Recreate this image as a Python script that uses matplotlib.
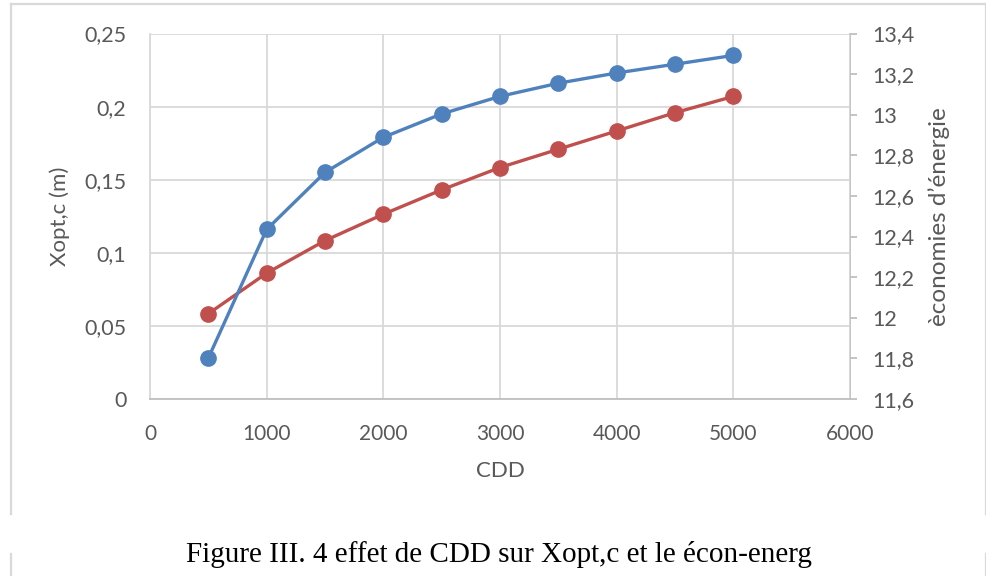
import matplotlib
matplotlib.use("Agg")
import matplotlib.pyplot as plt
from matplotlib.lines import Line2D
from matplotlib.ticker import FixedLocator, FuncFormatter

# CDD values and the two series
cdd = [500, 1000, 1500, 2000, 2500, 3000, 3500, 4000, 4500, 5000]
xopt_c = [0.028, 0.116, 0.155, 0.179, 0.195, 0.207, 0.216, 0.223, 0.229, 0.235]
economies = [12.02, 12.22, 12.38, 12.51, 12.63, 12.74, 12.83, 12.92, 13.01, 13.09]

x_ticks = [0, 1000, 2000, 3000, 4000, 5000, 6000]
left_ticks = [0, 0.05, 0.1, 0.15, 0.2, 0.25]
right_ticks = [11.6, 11.8, 12.0, 12.2, 12.4, 12.6, 12.8, 13.0, 13.2, 13.4]

x_label = "CDD"
left_label = "Xopt,c (m)"
right_label = "èconomies d’énergie"
caption = "Figure III. 4 effet de CDD sur Xopt,c et le écon-energ"

BLUE = "#4F81BD"
RED = "#C0504D"
TXT = "#595959"
GRID = "#D9D9D9"
SPINE = "#BFBFBF"
FONT = "Lato"


def fr_fmt(v, _pos=None):
    return f"{round(v, 3):g}".replace(".", ",")


W, H = 987, 576
fig = plt.figure(figsize=(W / 100, H / 100), dpi=100)
fig.patch.set_facecolor("white")

ax = fig.add_axes([150 / W, 1 - 399 / H, 700 / W, (399 - 33.5) / H])
ax2 = ax.twinx()
ax.set_zorder(ax2.get_zorder() + 1)
ax.patch.set_visible(False)

ax.set_xlim(x_ticks[0], x_ticks[-1])
ax.set_ylim(left_ticks[0], left_ticks[-1])
ax2.set_ylim(right_ticks[0], right_ticks[-1])
ax.set_autoscale_on(False)

ax.xaxis.set_major_locator(FixedLocator(x_ticks))
ax.yaxis.set_major_locator(FixedLocator(left_ticks))
ax2.yaxis.set_major_locator(FixedLocator(right_ticks))
ax.xaxis.set_major_formatter(FuncFormatter(lambda v, p: f"{int(v)}"))
ax.yaxis.set_major_formatter(FuncFormatter(fr_fmt))
ax2.yaxis.set_major_formatter(FuncFormatter(fr_fmt))

ax.grid(True, color=GRID, linewidth=1.3, zorder=0)
ax.set_axisbelow(True)

ax.spines["top"].set_visible(False)
ax2.spines["top"].set_visible(False)
ax.spines["right"].set_visible(False)
ax.spines["left"].set_color(GRID)
ax.spines["left"].set_linewidth(1.3)
ax.spines["bottom"].set_color(SPINE)
ax.spines["bottom"].set_linewidth(1.3)
ax2.spines["left"].set_visible(False)
ax2.spines["bottom"].set_visible(False)
ax2.spines["right"].set_color(SPINE)
ax2.spines["right"].set_linewidth(1.3)

ax.tick_params(axis="x", length=0, pad=18, labelsize=15, labelcolor=TXT)
ax.tick_params(axis="y", length=0, pad=17, labelsize=15.5, labelcolor=TXT)
ax2.tick_params(axis="y", length=5, width=1.3, color=SPINE, pad=11,
                labelsize=15.5, labelcolor=TXT)
for lbl in ax.get_xticklabels() + ax.get_yticklabels() + ax2.get_yticklabels():
    lbl.set_fontfamily(FONT)

# energy savings plotted in the secondary axis coordinates, drawn beneath the blue series
ax.plot(cdd, economies, transform=ax2.transData, color=RED, linewidth=2.4,
        marker="o", markersize=11, zorder=3, clip_on=False)
ax.plot(cdd, xopt_c, color=BLUE, linewidth=2.4, marker="o", markersize=11,
        zorder=4, clip_on=False)

ax.set_xlabel(x_label, fontsize=16, color=TXT, family=FONT, labelpad=12)
ax.set_ylabel(left_label, fontsize=16, color=TXT, family=FONT, labelpad=10)
ax2.set_ylabel(right_label, fontsize=17.5, color=TXT, family=FONT, labelpad=10)

# chart frame, interrupted around the caption
frame_kw = dict(color="#D9D9D9", linewidth=1.6, transform=fig.transFigure)
fx0, fx1 = 11 / W, 986 / W
ftop = 1 - 4 / H
fig.add_artist(Line2D([fx0, fx1], [ftop, ftop], **frame_kw))
for fx in (fx0, fx1):
    fig.add_artist(Line2D([fx, fx], [ftop, 1 - 514 / H], **frame_kw))
    fig.add_artist(Line2D([fx, fx], [1 - 554 / H, 0], **frame_kw))

fig.text(0.506, 1 - 555 / H, caption, ha="center", va="center",
         family="Liberation Serif", fontsize=21, color="black")

fig.savefig("out.png", dpi=100)
